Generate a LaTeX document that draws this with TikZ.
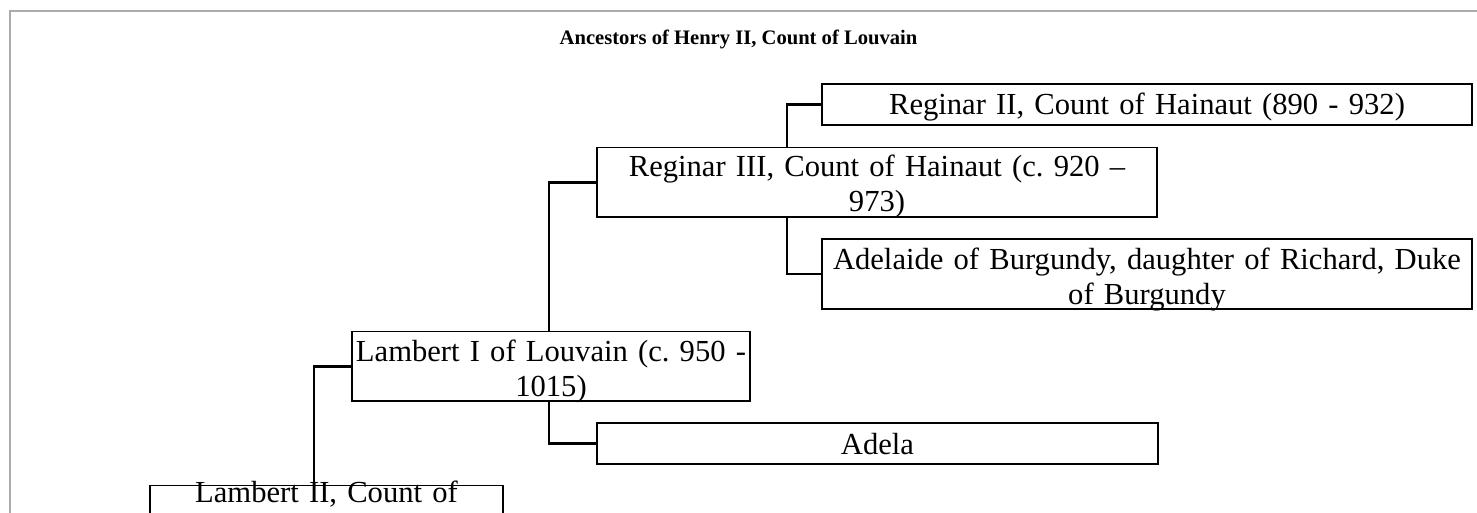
\documentclass[tikz,border=0pt]{standalone}
\usepackage{fontspec}
\setmainfont{Liberation Serif}
\definecolor{framegray}{RGB}{171,171,171}
\frenchspacing
\begin{document}
\begin{tikzpicture}[x=0.5pt,y=-0.5pt,
  box/.style={draw=black, line width=0.75pt, rectangle, inner sep=0pt, outer sep=0pt, anchor=north west},
  lbl/.style={anchor=base, inner sep=0pt, align=center, text width=400pt,
              font=\fontsize{15.3}{17.5}\selectfont},
  conn/.style={draw=black, line width=1.4pt},
  ttl/.style={anchor=base, inner sep=0pt, font=\fontsize{10.3}{12}\selectfont\bfseries}]
\useasboundingbox (0,0) rectangle (1477,513);
\clip (0,0) rectangle (1477,513);
% outer frame
\draw[framegray, line width=1pt] (10,600) -- (10,11) -- (1500,11);
% title
\node[ttl] (title) at (738.5,45) {Ancestors of Henry II, Count of Louvain};
% boxes
\node[box, minimum width=325pt,   minimum height=20.5pt]  (r2)    at (822,84)    {};
\node[box, minimum width=280pt,   minimum height=34.75pt] (r3)    at (597,147.5) {};
\node[box, minimum width=325pt,   minimum height=35pt]    (ad)    at (822,239)   {};
\node[box, minimum width=199pt,   minimum height=34.75pt] (l1)    at (352,331.5) {};
\node[box, minimum width=280.5pt, minimum height=20.5pt]  (adela) at (597,423)   {};
\node[box, minimum width=176.5pt, minimum height=45pt]    (l2)    at (150,485.5) {};
% texts
\node[lbl] (r2t) at ([yshift=-15.5pt]r2.north) {Reginar II, Count of Hainaut (890 - 932)};
\node[lbl] (r3t) at ([yshift=-14.5pt]r3.north) {Reginar III, Count of Hainaut (c. 920 –\\973)};
\node[lbl] (adt) at ([yshift=-15.5pt]ad.north) {Adelaide of Burgundy, daughter of Richard, Duke\\of Burgundy};
\node[lbl] (l1t) at ([yshift=-15pt]l1.north) {Lambert I of Louvain (c. 950 -\\1015)};
\node[lbl] (adelat) at ([yshift=-15.5pt]adela.north) {Adela};
\node[lbl] (l2t) at ([yshift=-8.5pt]l2.north) {Lambert II, Count of};
% connectors
\draw[conn] ([xshift=95pt]r3.north west) |- (r2.west);
\draw[conn] ([xshift=95pt]r3.south west) |- (ad.west);
\draw[conn] ([xshift=98.5pt]l1.north west) |- (r3.west);
\draw[conn] ([xshift=98.5pt]l1.south west) |- (adela.west);
\draw[conn] ([xshift=82pt]l2.north west) |- (l1.west);
\end{tikzpicture}
\end{document}
